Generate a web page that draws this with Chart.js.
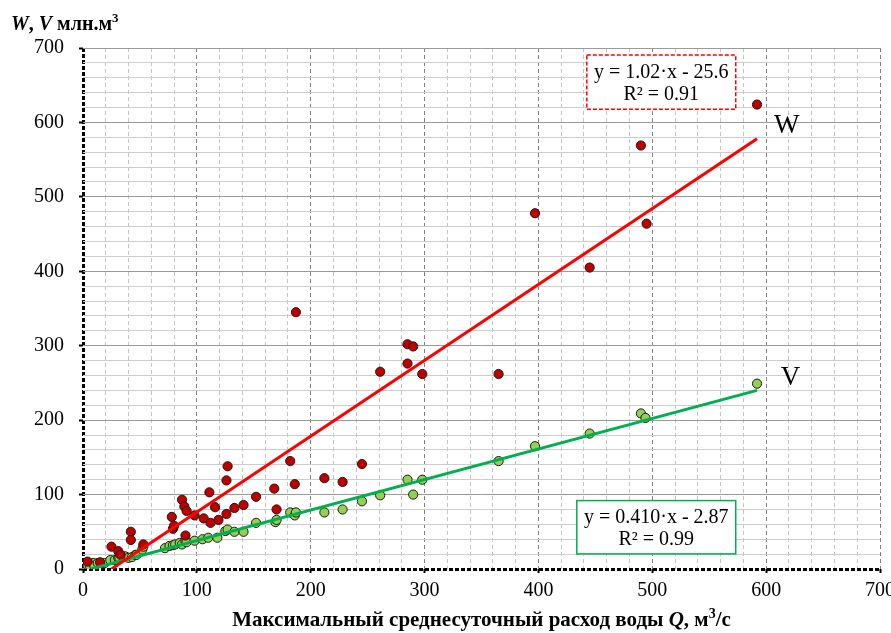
<!DOCTYPE html>
<html>
<head>
<meta charset="utf-8">
<script src="https://cdn.jsdelivr.net/npm/chart.js@4.4.0/dist/chart.umd.min.js"></script>
<style>
  html, body { margin: 0; padding: 0; background: #fff; }
  #wrap { width: 891px; height: 633px; }
</style>
</head>
<body>
<div id="wrap"><canvas id="myChart"></canvas></div>
<script>
// W (red) points: max daily discharge Q vs W
const qW = [4, 15, 25, 31, 33, 42, 42, 53, 78, 79, 80, 87, 89, 91, 90, 98, 106, 111, 112, 116, 119, 126, 126, 127,
  133, 141, 152, 168, 170, 182, 186, 187, 212, 228, 245, 261, 285, 290, 285, 298, 365, 397, 445, 490, 495, 592];
const wValues = [10, 9, 30, 24, 19, 50, 39, 33, 70, 54, 58, 93, 84, 78, 45, 72, 68, 103, 62, 83, 66, 74, 119, 138,
  82, 86, 97, 108, 80, 145, 114, 345, 122, 117, 141, 265, 302, 299, 276, 262, 262, 478, 405, 569, 464, 624];

// V (green) points
const qV = [2, 4, 6, 9, 10, 13, 16, 19, 24, 28, 31, 32, 37, 40, 43, 46, 47, 52, 53, 72, 76, 79, 81, 85, 87, 90, 91,
  98, 105, 110, 118, 125, 127, 133, 141, 152, 169, 170, 182, 186, 187, 212, 228, 245, 261, 285, 290, 298, 365,
  397, 445, 490, 494, 592];
const vValues = [3, 5, 4, 8, 4, 8, 8, 8, 12, 12, 15, 15, 17, 15, 16, 19, 19, 26, 30, 28, 31, 32, 33, 35, 33, 37, 36,
  38, 40, 42, 42, 51, 53, 50, 50, 62, 63, 66, 76, 72, 76, 76, 80, 91, 99, 120, 100, 120, 145, 165, 182, 209, 203,
  249];

// trend lines, end points
const wTrendQ = [25, 592];
const wTrendY = [0, 578];
const vTrendQ = [7, 592];
const vTrendY = [0, 240];

const wEquation = ["y = 1.02·x - 25.6", "R² = 0.91"];
const vEquation = ["y = 0.410·x - 2.87", "R² = 0.99"];

const SERIF = "'Liberation Serif', 'Times New Roman', serif";

function toPoints(xs, ys) {
  return xs.map((x, i) => ({ x: x, y: ys[i] }));
}

function drawRuns(ctx, runs, x, y, align) {
  let total = 0;
  runs.forEach(r => { ctx.font = r.font; total += ctx.measureText(r.t).width; });
  let cx = align === "center" ? x - total / 2 : x;
  ctx.textAlign = "left";
  ctx.textBaseline = "alphabetic";
  runs.forEach(r => {
    ctx.font = r.font;
    ctx.fillText(r.t, cx, y + (r.dy || 0));
    cx += ctx.measureText(r.t).width;
  });
}

const notes = {
  id: "notes",
  afterDatasetsDraw(chart) {
    const ctx = chart.ctx;
    const xs = chart.scales.x, ys = chart.scales.y;
    ctx.save();
    ctx.fillStyle = "#000";

    // equation boxes
    function box(x1, y1, x2, y2, lines, color, dash) {
      const px1 = xs.getPixelForValue(x1), px2 = xs.getPixelForValue(x2);
      const py1 = ys.getPixelForValue(y1), py2 = ys.getPixelForValue(y2);
      ctx.fillStyle = "#fff";
      ctx.fillRect(px1, py1, px2 - px1, py2 - py1);
      ctx.strokeStyle = color;
      ctx.lineWidth = 1.5;
      ctx.setLineDash(dash);
      ctx.strokeRect(px1, py1, px2 - px1, py2 - py1);
      ctx.setLineDash([]);
      ctx.fillStyle = "#000";
      ctx.font = "20px " + SERIF;
      ctx.textAlign = "center";
      ctx.textBaseline = "middle";
      const cx = (px1 + px2) / 2, h = py2 - py1;
      ctx.fillText(lines[0], cx, py1 + h * 0.33);
      ctx.fillText(lines[1], cx, py1 + h * 0.74);
    }
    box(442.5, 690.5, 573.3, 617.6, wEquation, "#ff0000", [4, 2]);
    box(433.7, 91.9, 573.3, 20.3, vEquation, "#00b050", []);

    // series labels
    ctx.font = "27px " + SERIF;
    ctx.textAlign = "center";
    ctx.textBaseline = "alphabetic";
    ctx.fillText("W", xs.getPixelForValue(618), ys.getPixelForValue(586));
    ctx.fillText("V", xs.getPixelForValue(621.5), ys.getPixelForValue(247));

    // axis titles
    const b = "bold 20px " + SERIF, bi = "italic bold 20px " + SERIF, sup = "bold 13px " + SERIF;
    drawRuns(ctx, [
      { t: "W", font: bi }, { t: ", ", font: b }, { t: "V", font: bi },
      { t: " млн.м", font: b }, { t: "3", font: sup, dy: -8 }
    ], 11, 30, "left");
    const b2 = "bold 21px " + SERIF, bi2 = "italic bold 21px " + SERIF, sup2 = "bold 14px " + SERIF;
    drawRuns(ctx, [
      { t: "Максимальный среднесуточный расход воды ", font: b2 }, { t: "Q", font: bi2 },
      { t: ", м", font: b2 }, { t: "3", font: sup2, dy: -8 }, { t: "/с", font: b2 }
    ], (chart.chartArea.left + chart.chartArea.right) / 2, 626, "center");
    ctx.restore();
  }
};

function gridColor(ctx, minor, major) {
  const v = ctx.tick ? ctx.tick.value : null;
  if (v === 0) return "#000";
  return v % 100 === 0 ? major : minor;
}

new Chart("myChart", {
  type: "scatter",
  data: {
    datasets: [
      {
        label: "W trend",
        data: toPoints(wTrendQ, wTrendY),
        showLine: true,
        borderColor: "#ff0000",
        borderWidth: 3,
        pointRadius: 0,
      },
      {
        label: "V trend",
        data: toPoints(vTrendQ, vTrendY),
        showLine: true,
        borderColor: "#00b050",
        borderWidth: 3,
        pointRadius: 0,
      },
      {
        label: "W",
        data: toPoints(qW, wValues),
        backgroundColor: "#c00000",
        borderColor: "#1a1a1a",
        borderWidth: 1,
        pointRadius: 4.6,
      },
      {
        label: "V",
        data: toPoints(qV, vValues),
        backgroundColor: "#92d050",
        borderColor: "#1a1a1a",
        borderWidth: 1,
        pointRadius: 4.6,
      },
    ],
  },
  options: {
    responsive: true,
    maintainAspectRatio: false,
    animation: false,
    layout: { padding: { top: 48, left: 19, right: 11, bottom: 24 } },
    plugins: {
      legend: { display: false },
      tooltip: { enabled: false },
    },
    scales: {
      x: {
        type: "linear",
        min: 0,
        max: 700,
        afterFit: s => { s.paddingRight = 0; },
        ticks: {
          stepSize: 20,
          autoSkip: false,
          maxRotation: 0,
          padding: 6,
          color: "#000",
          font: { family: SERIF, size: 20 },
          callback: v => (v % 100 === 0 ? v : ""),
        },
        grid: {
          color: c => gridColor(c, "#c4c4c4", "#7f7f7f"),
          lineWidth: c => (c.tick && c.tick.value === 0 ? 3 : 1),
          tickColor: c => (c.tick && c.tick.value % 100 === 0 ? "#000" : "rgba(0,0,0,0)"),
          tickLength: 4,
          tickWidth: 2,
        },
        border: {
          display: false,
          dash: c => (c.tick && c.tick.value === 0 ? [4, 2] : [4, 3]),
        },
      },
      y: {
        type: "linear",
        min: 0,
        max: 700,
        ticks: {
          stepSize: 20,
          autoSkip: false,
          padding: 15,
          color: "#000",
          font: { family: SERIF, size: 20 },
          callback: v => (v % 100 === 0 ? v : ""),
        },
        grid: {
          color: c => gridColor(c, "#cccccc", "#9a9a9a"),
          lineWidth: c => (c.tick && c.tick.value === 0 ? 3 : 1),
          tickColor: c => (c.tick && c.tick.value % 100 === 0 ? "#000" : "rgba(0,0,0,0)"),
          tickLength: 4,
          tickWidth: 2,
        },
        border: {
          display: false,
          dash: c => (c.tick && c.tick.value === 0 ? [4, 2] : []),
        },
      },
    },
  },
  plugins: [notes],
});
</script>
</body>
</html>
